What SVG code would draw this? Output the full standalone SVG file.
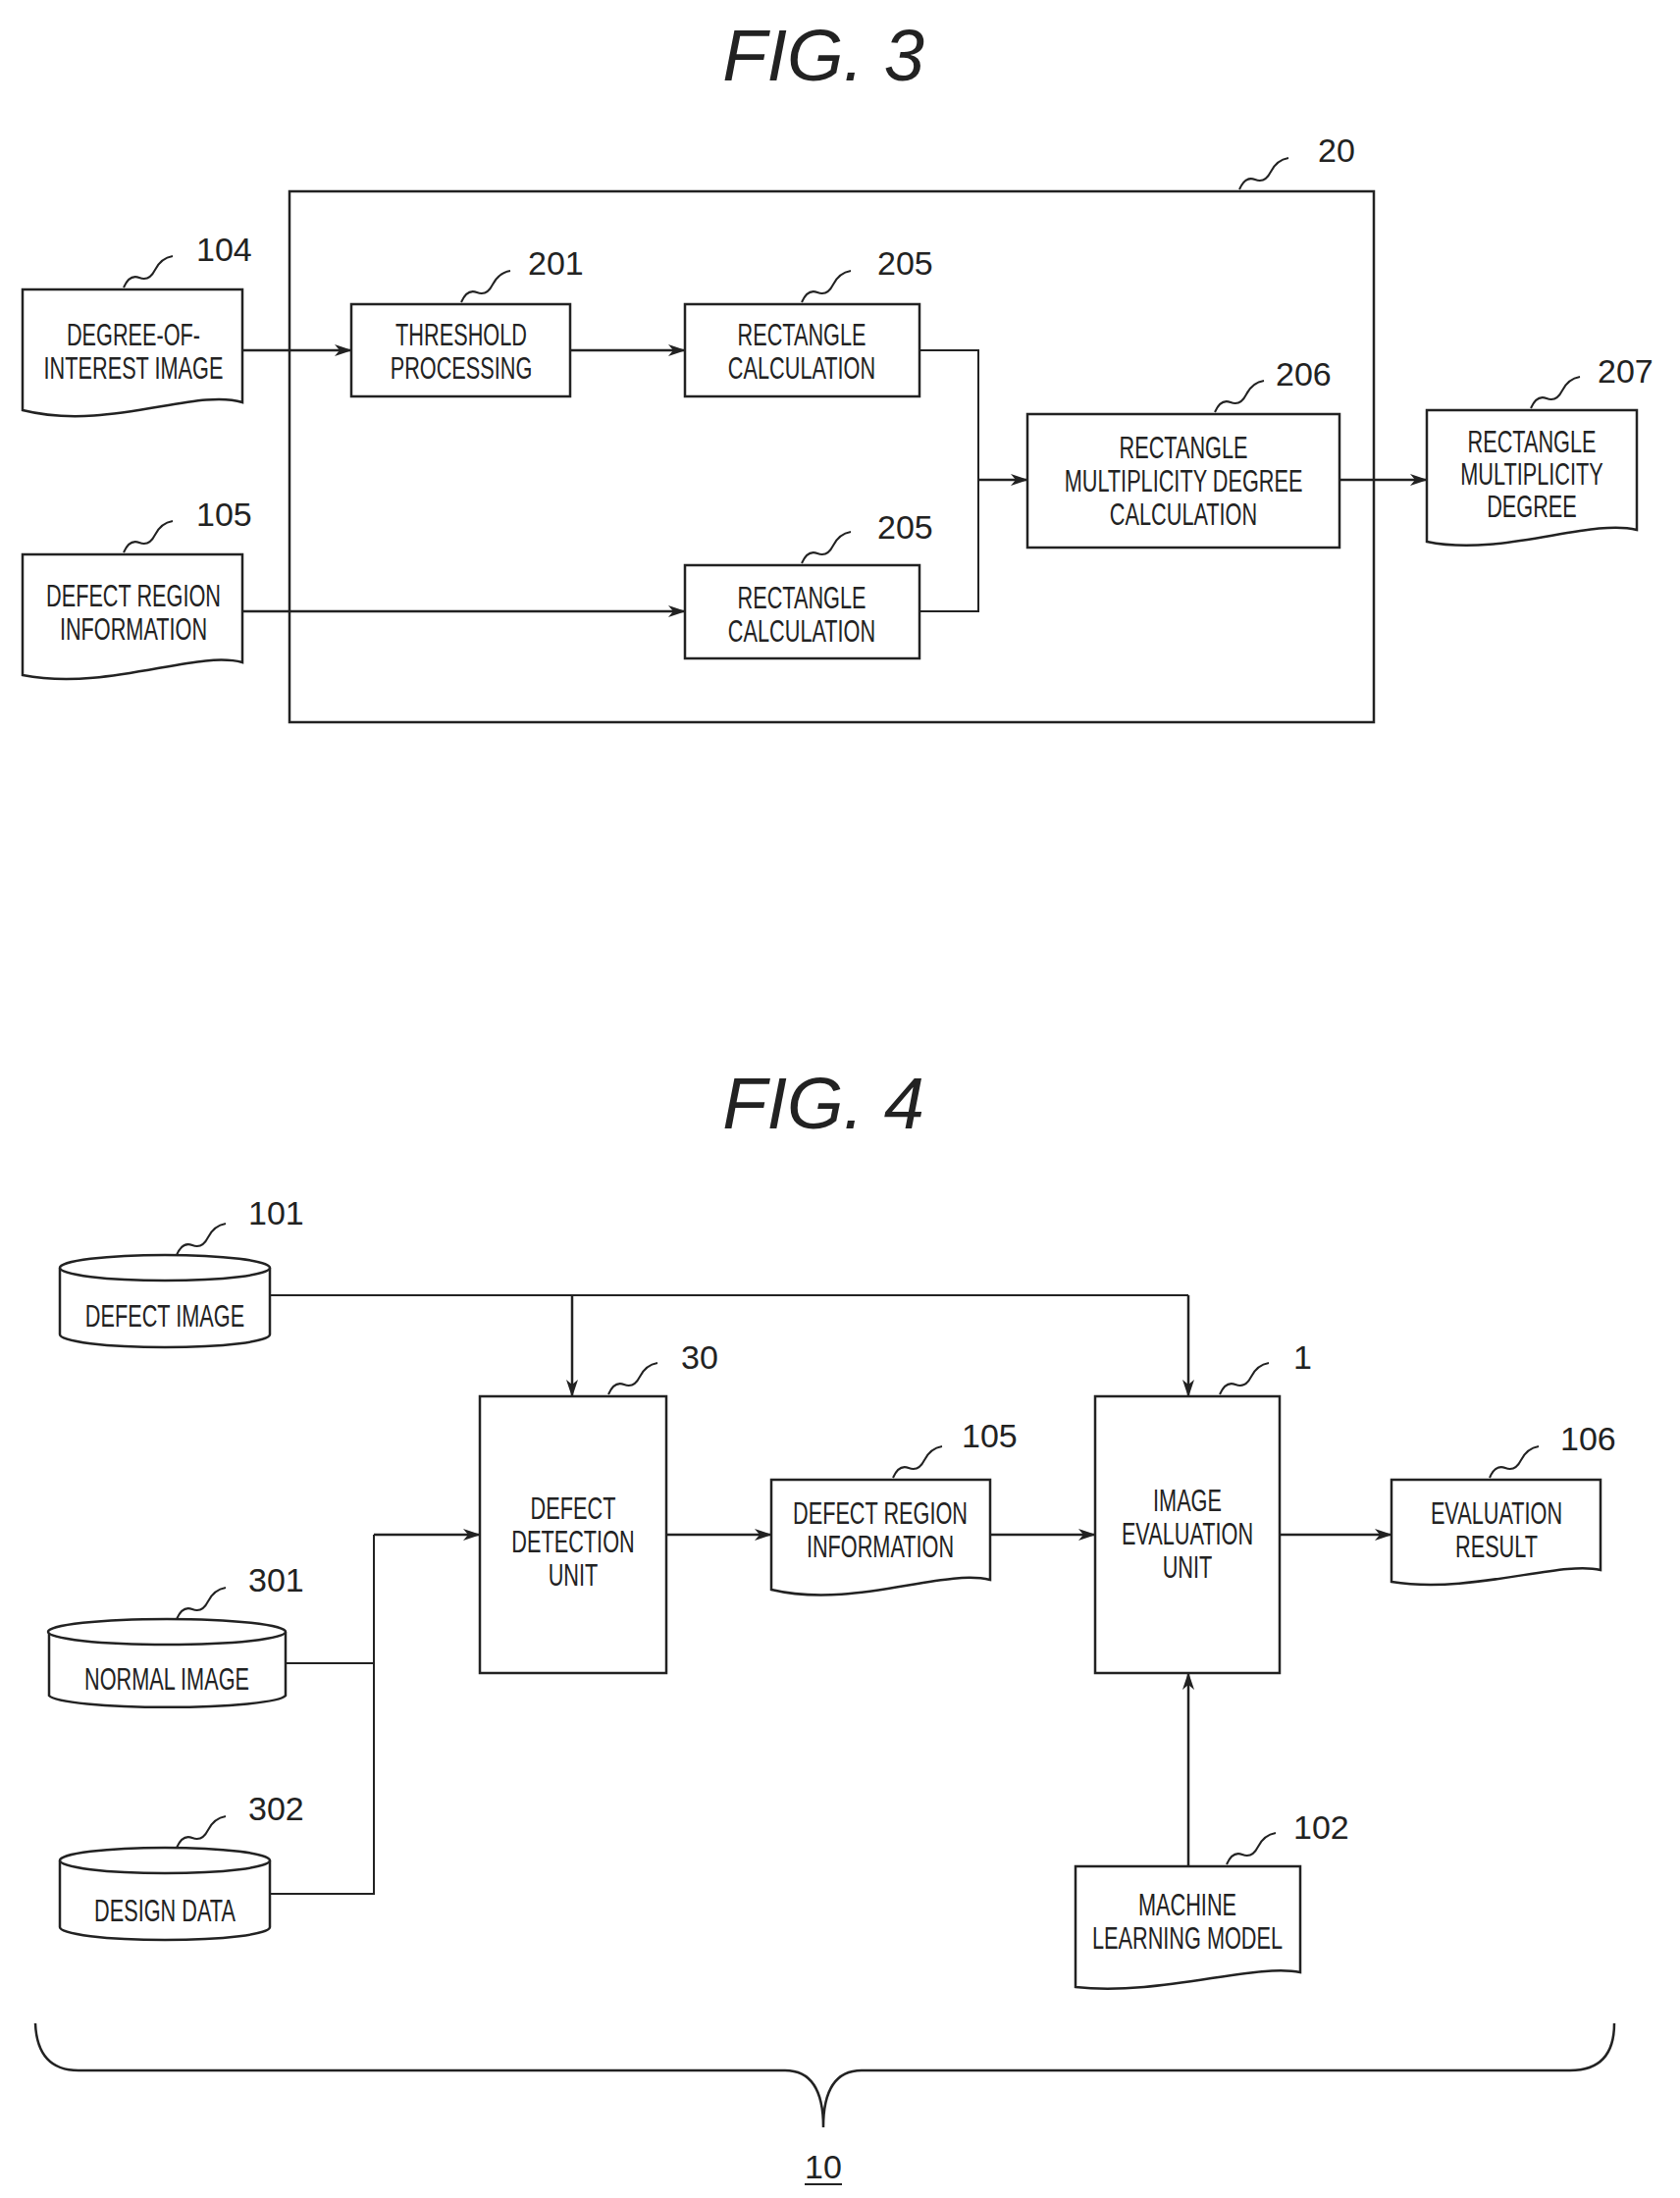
<svg xmlns="http://www.w3.org/2000/svg" width="1712" height="2240" viewBox="0 0 1712 2240">
<style>
.s{fill:none;stroke:#222;stroke-width:2.5}
.w{fill:#fff;stroke:#222;stroke-width:2.5}
.t{font-family:"Liberation Sans",Arial,sans-serif;font-size:31px;fill:#222;text-anchor:middle}
.n{font-family:"Liberation Sans",Arial,sans-serif;font-size:34px;fill:#222}
.h{font-family:"Liberation Sans",Arial,sans-serif;font-size:74px;font-style:italic;fill:#222;text-anchor:middle}
.c{fill:none;stroke:#222;stroke-width:2.5;marker-end:url(#a)}
.l{fill:none;stroke:#222;stroke-width:2}
</style>
<defs>
<marker id="a" markerWidth="18" markerHeight="12" refX="17" refY="6" orient="auto" markerUnits="userSpaceOnUse">
<path d="M0,0 L18,6 L0,12 L5,6 Z" fill="#222"/>
</marker>
</defs>
<rect width="1712" height="2240" fill="#fff"/>
<text class="h" x="839" y="82">FIG. 3</text>
<text class="h" x="839" y="1150">FIG. 4</text>

<g id="connectors">
<path class="c" d="M247,357 H358"/>
<path class="c" d="M581,357 H698"/>
<path class="c" d="M247,623 H698"/>
<path class="l" d="M937,357 H997 V623 H937"/>
<path class="c" d="M997,489 H1047"/>
<path class="c" d="M1365,489 H1454"/>
<path class="l" d="M275,1320 H1211"/>
<path class="c" d="M583,1320 V1423"/>
<path class="c" d="M1211,1320 V1423"/>
<path class="l" d="M291,1695 H381"/>
<path class="l" d="M275,1930 H381 V1564"/>
<path class="c" d="M381,1564 H489"/>
<path class="c" d="M679,1564 H786"/>
<path class="c" d="M1009,1564 H1116"/>
<path class="c" d="M1304,1564 H1418"/>
<path class="c" d="M1211,1902 V1705"/>
</g>

<g id="n20">
<rect class="s" x="295" y="195" width="1105" height="541"/>
<path class="l" d="M1263,193 q6,-14 16,-10 q10,4 16,-8 q6,-12 18,-14"/>
<text class="n" x="1343" y="165">20</text>
</g>

<g id="n104">
<path class="w" d="M23,295 H247 V410 C200,395 110,440 23,418 Z"/>
<text class="t" transform="translate(136,352) scale(0.7,1)">DEGREE-OF-</text>
<text class="t" transform="translate(136,386) scale(0.7,1)">INTEREST IMAGE</text>
<path class="l" d="M126,293 q6,-14 16,-10 q10,4 16,-8 q6,-12 18,-14"/>
<text class="n" x="200" y="266">104</text>
</g>
<g id="n201">
<rect class="w" x="358" y="310" width="223" height="94"/>
<text class="t" transform="translate(470,352) scale(0.7,1)">THRESHOLD</text>
<text class="t" transform="translate(470,386) scale(0.7,1)">PROCESSING</text>
<path class="l" d="M470,308 q6,-14 16,-10 q10,4 16,-8 q6,-12 18,-14"/>
<text class="n" x="538" y="280">201</text>
</g>
<g id="n205a">
<rect class="w" x="698" y="310" width="239" height="94"/>
<text class="t" transform="translate(817,352) scale(0.7,1)">RECTANGLE</text>
<text class="t" transform="translate(817,386) scale(0.7,1)">CALCULATION</text>
<path class="l" d="M817,308 q6,-14 16,-10 q10,4 16,-8 q6,-12 18,-14"/>
<text class="n" x="894" y="280">205</text>
</g>
<g id="n206">
<rect class="w" x="1047" y="422" width="318" height="136"/>
<text class="t" transform="translate(1206,467) scale(0.7,1)">RECTANGLE</text>
<text class="t" transform="translate(1206,501) scale(0.7,1)">MULTIPLICITY DEGREE</text>
<text class="t" transform="translate(1206,535) scale(0.7,1)">CALCULATION</text>
<path class="l" d="M1238,420 q6,-14 16,-10 q10,4 16,-8 q6,-12 18,-14"/>
<text class="n" x="1300" y="393">206</text>
</g>
<g id="n207">
<path class="w" d="M1454,418 H1668 V540 C1620,528 1530,568 1454,552 Z"/>
<text class="t" transform="translate(1561,461) scale(0.7,1)">RECTANGLE</text>
<text class="t" transform="translate(1561,494) scale(0.7,1)">MULTIPLICITY</text>
<text class="t" transform="translate(1561,527) scale(0.7,1)">DEGREE</text>
<path class="l" d="M1560,416 q6,-14 16,-10 q10,4 16,-8 q6,-12 18,-14"/>
<text class="n" x="1628" y="390">207</text>
</g>
<g id="n105a">
<path class="w" d="M23,565 H247 V675 C200,662 110,705 23,688 Z"/>
<text class="t" transform="translate(136,618) scale(0.7,1)">DEFECT REGION</text>
<text class="t" transform="translate(136,652) scale(0.7,1)">INFORMATION</text>
<path class="l" d="M126,563 q6,-14 16,-10 q10,4 16,-8 q6,-12 18,-14"/>
<text class="n" x="200" y="536">105</text>
</g>
<g id="n205b">
<rect class="w" x="698" y="576" width="239" height="95"/>
<text class="t" transform="translate(817,620) scale(0.7,1)">RECTANGLE</text>
<text class="t" transform="translate(817,654) scale(0.7,1)">CALCULATION</text>
<path class="l" d="M817,574 q6,-14 16,-10 q10,4 16,-8 q6,-12 18,-14"/>
<text class="n" x="894" y="549">205</text>
</g>

<g id="n101">
<path class="w" d="M61,1292 V1360 A107,13 0 0 0 275,1360 V1292"/>
<ellipse class="w" cx="168" cy="1292" rx="107" ry="13"/>
<text class="t" transform="translate(168,1352) scale(0.7,1)">DEFECT IMAGE</text>
<path class="l" d="M180,1279 q6,-14 16,-10 q10,4 16,-8 q6,-12 18,-14"/>
<text class="n" x="253" y="1248">101</text>
</g>
<g id="n30">
<rect class="w" x="489" y="1423" width="190" height="282"/>
<text class="t" transform="translate(584,1548) scale(0.7,1)">DEFECT</text>
<text class="t" transform="translate(584,1582) scale(0.7,1)">DETECTION</text>
<text class="t" transform="translate(584,1616) scale(0.7,1)">UNIT</text>
<path class="l" d="M620,1421 q6,-14 16,-10 q10,4 16,-8 q6,-12 18,-14"/>
<text class="n" x="694" y="1395">30</text>
</g>
<g id="n105b">
<path class="w" d="M786,1508 H1009 V1610 C960,1598 870,1640 786,1620 Z"/>
<text class="t" transform="translate(897,1553) scale(0.7,1)">DEFECT REGION</text>
<text class="t" transform="translate(897,1587) scale(0.7,1)">INFORMATION</text>
<path class="l" d="M910,1506 q6,-14 16,-10 q10,4 16,-8 q6,-12 18,-14"/>
<text class="n" x="980" y="1475">105</text>
</g>
<g id="n1">
<rect class="w" x="1116" y="1423" width="188" height="282"/>
<text class="t" transform="translate(1210,1540) scale(0.7,1)">IMAGE</text>
<text class="t" transform="translate(1210,1574) scale(0.7,1)">EVALUATION</text>
<text class="t" transform="translate(1210,1608) scale(0.7,1)">UNIT</text>
<path class="l" d="M1243,1421 q6,-14 16,-10 q10,4 16,-8 q6,-12 18,-14"/>
<text class="n" x="1318" y="1395">1</text>
</g>
<g id="n106">
<path class="w" d="M1418,1508 H1631 V1600 C1590,1590 1500,1625 1418,1612 Z"/>
<text class="t" transform="translate(1525,1553) scale(0.7,1)">EVALUATION</text>
<text class="t" transform="translate(1525,1587) scale(0.7,1)">RESULT</text>
<path class="l" d="M1518,1506 q6,-14 16,-10 q10,4 16,-8 q6,-12 18,-14"/>
<text class="n" x="1590" y="1478">106</text>
</g>
<g id="n301">
<path class="w" d="M50,1663 V1728 A121,13 0 0 0 291,1728 V1663"/>
<ellipse class="w" cx="170" cy="1663" rx="121" ry="13"/>
<text class="t" transform="translate(170,1722) scale(0.7,1)">NORMAL IMAGE</text>
<path class="l" d="M180,1650 q6,-14 16,-10 q10,4 16,-8 q6,-12 18,-14"/>
<text class="n" x="253" y="1622">301</text>
</g>
<g id="n302">
<path class="w" d="M61,1896 V1964 A107,13 0 0 0 275,1964 V1896"/>
<ellipse class="w" cx="168" cy="1896" rx="107" ry="13"/>
<text class="t" transform="translate(168,1958) scale(0.7,1)">DESIGN DATA</text>
<path class="l" d="M180,1883 q6,-14 16,-10 q10,4 16,-8 q6,-12 18,-14"/>
<text class="n" x="253" y="1855">302</text>
</g>
<g id="n102">
<path class="w" d="M1096,1902 H1325 V2010 C1280,2000 1180,2035 1096,2025 Z"/>
<text class="t" transform="translate(1210,1952) scale(0.7,1)">MACHINE</text>
<text class="t" transform="translate(1210,1986) scale(0.7,1)">LEARNING MODEL</text>
<path class="l" d="M1250,1900 q6,-14 16,-10 q10,4 16,-8 q6,-12 18,-14"/>
<text class="n" x="1318" y="1874">102</text>
</g>
<g id="n10">
<path class="s" d="M36,2062 Q38,2110 80,2110 H800 Q839,2110 839,2168 Q839,2110 878,2110 H1600 Q1645,2110 1645,2062"/>
<text class="n" x="839" y="2220" text-anchor="middle">10</text>
<path class="l" d="M820,2226 H858"/>
</g>
</svg>
